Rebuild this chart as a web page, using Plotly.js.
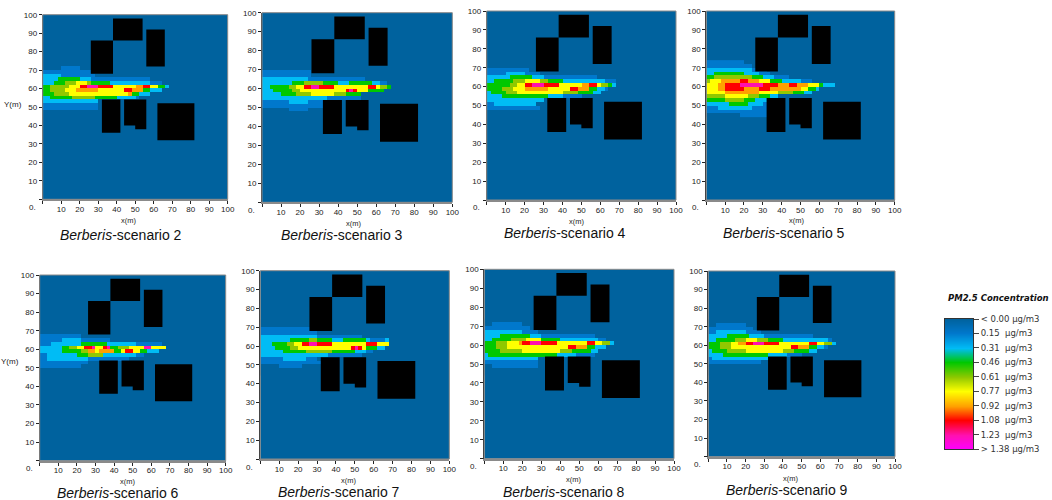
<!DOCTYPE html>
<html><head><meta charset="utf-8">
<script src="https://cdn.plot.ly/plotly-3.0.1.min.js"></script>
<style>html,body{margin:0;padding:0;background:#fff}</style></head>
<body><div id="chart" style="width:1052px;height:500px"></div>
<script>
// --- data -----------------------------------------------------------------
const legendLevels = [0, 0.15, 0.31, 0.46, 0.61, 0.77, 0.92, 1.08, 1.23, 1.38];
const legendLabels = ['< 0.00 µg/m3','0.15\u00a0\u00a0µg/m3','0.31\u00a0\u00a0µg/m3','0.46\u00a0\u00a0µg/m3','0.61\u00a0\u00a0µg/m3','0.77\u00a0\u00a0µg/m3','0.92\u00a0\u00a0µg/m3','1.08\u00a0\u00a0µg/m3','1.23\u00a0\u00a0µg/m3','> 1.38 µg/m3'];
const rampColors = ['#00629e','#0078cc','#00bcf5','#00c800','#90c800','#ffff00','#ffa000','#ff0000','#ff10b0','#ff00ff'];
const scenarioNames = ['2','3','4','5','6','7','8','9'];
const axisTicks = [0,10,20,30,40,50,60,70,80,90,100];
const axisTickText = ['','10','20','30','40','50','60','70','80','90','100'];
// centres of the 2 m rows, top to bottom; every digit is one 2 m cell, index into legendLevels
const plumeY = [73,71,69,67,65,63,61,59,57,55,53,51,49,47,45];
const plumeX = [1,3,5,7,9,11,13,15,17,19,21,23,25,27,29,31,33,35,37,39,41,43,45,47,49,51,53,55,57,59,61,63,65,67,69];
const s2 = ['','0000011111','1111111111111','22222111111111','22223333332221111111111111111','22233344455543333322222222222111','3344444555778887777555555667755332','33444455566666655555557766633222','33344445555555555555555633222','22333333444444333333222221','222222222222222','111111111111111','111111111111111','',''];
const s3 = ['','','1111111111111','1111111111111','222222222222111111111111111','222222223334444433332223333332211','2233333445577887777555555555775443','22233333445555555555557875553333','22222333344445555554443333','22222222222222222111111111','1111111222221111','1111111111111111','0000000111110','',''];
const s4 = ['','','11111111111','11111222221111','22222233333322211111111111111','2233333444555544333322222222222111','3333334455778887777555555667754432','33334445556666665555557766633221','233334445555555555554444333322','2222333333333333222211111','222222222222222','1122222222222','11111111111111','',''];
const s5 = ['1111111111','111111111111','2222222222221111','22333333332222111','3344444444443332221111','4555666667766655533322222111','5556677778888887777666776665553222','555667777766667776666666655332','5555566666666655555444433322','4444455555544433322','333334444433322221','22222233333222211','1112222222221111','1111111111111111','0000000001111111'];
const s6 = ['','','','11111111111','1111112222211111111','111222222223333333222222221111111','2222223344557785578334445555885555','22222233333446656666335775533222','1122222222333444422222222211','112222222222211111111111','1111111111111','11111111111','','',''];
const s7 = ['','','111111111111111','111111111111111','222222222222222111111111111','2222222233333443333222333333211112','2223333445577887777555555555777555','222233334455555555555555787533322','222222333333444444433333322211','222222222222222222111111111','111111222222111','1111111111111111','00000111111','',''];
const s8 = ['','0011111111','111111111111','22222222221111','22223333333322211111111111111','22333334444555533333222222222211','3334445556778887777555555557755442','33344455555555555555557766633222','333344444455555555554443333322','23333333333333333332222211111','22222222222222','11111111111111','00111111111111','',''];
const s9 = ['','0011111111','111111111111','11222222221111','2222233333322221111111111111','223333344455544433332222222222221','3334445566778887777555555557755442','33344455555555555555557766633221','23333444445555555555444333322','2222333333333333222221111','1222222222222222','11111111111111','','',''];
const plumes = [s2,s3,s4,s5,s6,s7,s8,s9];
// building outlines in metres; null separates two buildings
const buildingX = [38,54,54,38,38,null,56,66,66,56,56,null,26,38,38,26,26,null,32,42,42,32,32,null,44,56,56,50,50,44,44,null,62,82,82,62,62];
const buildingY = [98,98,86,86,98,null,92,92,72,72,92,null,86,86,68,68,86,null,54,54,36,36,54,null,54,54,38,38,40,40,54,null,52,52,32,32,52];

// --- layout numbers (pixels in the 1052x500 page) -------------------------
const W = 1052, H = 500;
const boxes = [[42.7,227.7,14.7,199.3],[262,452.3,12.7,202.3],[486.7,676,11,200],[706.3,894.7,11,200],
               [39.7,225.7,275,460.7],[260.3,449.3,270.7,459],[484.3,674,269.3,458.7],[708.3,895,271,456.7]];
const titlePos = [[121,235],[341.7,235],[565,233],[784,233],[118,493],[339,491.7],[563.7,491.5],[786.7,490]];
const xLabelPos = [[128.7,221],[353,224],[576,222],[796,221],[127,481],[348,480],[573,479.5],[790,478]];
const fx = p => p / W, fy = p => 1 - p / H;
const FONT = 'Liberation Sans, Arial, sans-serif';
const colorscale = legendLevels.map((v,i) => [v / legendLevels[legendLevels.length-1], rampColors[i]]);

const traces = [], annotations = [], shapes = [];
const layout = {width:W, height:H, margin:{l:0,r:0,t:0,b:0}, paper_bgcolor:'#fff', plot_bgcolor:rampColors[0], showlegend:false, annotations, shapes};

boxes.forEach((b,k) => {
  const n = k + 1, xa = n === 1 ? 'x' : 'x'+n, ya = n === 1 ? 'y' : 'y'+n;
  const zz = plumes[k].map(r => plumeX.map((_,i) => legendLevels[+(r[i] || 0)]));
  traces.push({type:'heatmap', x:plumeX, y:plumeY, z:zz, xaxis:xa, yaxis:ya, colorscale, zmin:0, zmax:1.38, showscale:false, hoverinfo:'skip'});
  traces.push({type:'scatter', mode:'none', x:buildingX, y:buildingY, fill:'toself', fillcolor:'#000', xaxis:xa, yaxis:ya, hoverinfo:'skip'});
  const axis = {range:[0,100], tickmode:'array', tickvals:axisTicks, ticktext:axisTickText, ticks:'outside', ticklen:3, tickwidth:1, tickcolor:'#222',
    tickfont:{family:FONT,size:8,color:'#222'}, showgrid:false, zeroline:false, showline:true, fixedrange:true};
  layout['xaxis'+(n===1?'':n)] = Object.assign({}, axis, {domain:[fx(b[0]),fx(b[1])], anchor:ya, linecolor:'#8a8a8a', linewidth:2, ticklabelstandoff:-2});
  layout['yaxis'+(n===1?'':n)] = Object.assign({}, axis, {domain:[fy(b[3]),fy(b[2])], anchor:xa, linecolor:'#333', linewidth:1});
  shapes.push({type:'rect', xref:'paper', yref:'paper', x0:fx(b[0]), x1:fx(b[1]), y0:fy(b[3]), y1:fy(b[2]), line:{color:'#8a8a8a',width:1}, fillcolor:'rgba(0,0,0,0)', layer:'above'});
  annotations.push({xref:'paper',yref:'paper',x:fx(b[0]-5),y:fy(b[3]+8),text:'0.',showarrow:false,font:{family:FONT,size:8,color:'#222'},xanchor:'right',yanchor:'middle'});
  annotations.push({xref:'paper',yref:'paper',x:fx(titlePos[k][0]),y:fy(titlePos[k][1]),text:'<i>Berberis</i>-scenario '+scenarioNames[k],showarrow:false,font:{family:FONT,size:14,color:'#111'},xanchor:'center',yanchor:'middle'});
  annotations.push({xref:'paper',yref:'paper',x:fx(xLabelPos[k][0]),y:fy(xLabelPos[k][1]),text:'x(m)',showarrow:false,font:{family:FONT,size:7.5,color:'#222'},xanchor:'center',yanchor:'middle'});
});
[[13,105],[10,361]].forEach(p => annotations.push({xref:'paper',yref:'paper',x:fx(p[0]),y:fy(p[1]),text:'Y(m)',showarrow:false,font:{family:FONT,size:8,color:'#222'},xanchor:'center',yanchor:'middle'}));

// colour legend
traces.push({type:'heatmap', x:[0,1], y:legendLevels.map((_,i)=>i), z:legendLevels.map(v=>[v,v]), xaxis:'x9', yaxis:'y9', colorscale, zmin:0, zmax:1.38, zsmooth:'best', showscale:false, hoverinfo:'skip'});
layout.xaxis9 = {domain:[fx(945),fx(973)], anchor:'y9', range:[0,1], showticklabels:false, ticks:'', showgrid:false, zeroline:false, showline:true, linecolor:'#333', linewidth:1, mirror:true, fixedrange:true};
layout.yaxis9 = {domain:[fy(449),fy(319)], anchor:'x9', side:'right', range:[9,0], tickmode:'array', tickvals:legendLevels.map((_,i)=>i), ticktext:legendLabels,
  ticks:'outside', ticklen:5, tickcolor:'#444', tickfont:{family:'DejaVu Sans, sans-serif',size:8.5,color:'#333'}, showgrid:false, zeroline:false, showline:true, linecolor:'#333', linewidth:1, mirror:true, fixedrange:true};
annotations.push({xref:'paper',yref:'paper',x:fx(998),y:fy(298),text:'<b><i>PM2.5 Concentration</i></b>',showarrow:false,font:{family:'DejaVu Sans, sans-serif',size:8.5,color:'#111'},xanchor:'center',yanchor:'middle'});

Plotly.newPlot('chart', traces, layout, {staticPlot:true, displayModeBar:false});
</script></body></html>
